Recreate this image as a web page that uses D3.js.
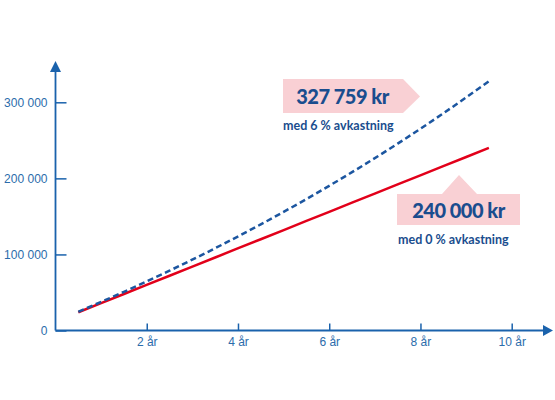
<!DOCTYPE html>
<html>
<head>
<meta charset="utf-8">
<script src="https://cdn.jsdelivr.net/npm/d3@7"></script>
<style>
  body { margin: 0; background: #fff; }
  svg { display: block; font-family: Lato, "Open Sans", sans-serif; }
</style>
</head>
<body>
<div id="chart"></div>
<script>
// data: savings of 2000 kr/month, year-end totals
const years = [1, 2, 3, 4, 5, 6, 7, 8, 9, 10];
const withReturn = [24671, 50864, 78672, 108196, 139540, 172818, 208148, 245657, 285480, 327759];
const noReturn = [24000, 48000, 72000, 96000, 120000, 144000, 168000, 192000, 216000, 240000];
const xTicks = [2, 4, 6, 8, 10];
const yTicks = [0, 100000, 200000, 300000];
const labels = [
  {amount: '327 759 kr', note: 'med 6 % avkastning'},
  {amount: '240 000 kr', note: 'med 0 % avkastning'}
];

const w = 555, h = 400;
const axisCol = '#1a62ac', tickTxt = '#2b6cab', darkBlue = '#1a4d8e';
const red = '#e2001a', pink = '#f9d0d4';

const svg = d3.select('#chart').append('svg').attr('width', w).attr('height', h);

const x = d3.scaleLinear().domain([0, 10]).range([55.5, 511.7]);
const y = d3.scaleLinear().domain([0, 300000]).range([330.5, 102.3]);

const fmt = d3.formatLocale({decimal: ',', thousands: ' ', grouping: [3], currency: ['', ' kr']}).format(',');

// x axis
const xAxis = d3.axisBottom(x).tickValues(xTicks).tickSize(-7).tickPadding(7).tickFormat(d => d + ' år');
const gx = svg.append('g').attr('transform', `translate(0,${y(0)})`).call(xAxis);
gx.select('.domain').remove();
gx.selectAll('line').attr('stroke', axisCol).attr('stroke-width', 1.5);
gx.selectAll('text').attr('fill', tickTxt).style('font-size', '12px');

// y axis
const yAxis = d3.axisLeft(y).tickValues(yTicks).tickSize(-11).tickPadding(8).tickFormat(fmt);
const gy = svg.append('g').attr('transform', `translate(${x(0)},0)`).call(yAxis);
gy.select('.domain').remove();
gy.selectAll('line').attr('stroke', axisCol).attr('stroke-width', 1.5);
gy.selectAll('text').attr('fill', tickTxt).style('font-size', '12px');

// axis lines with arrows
svg.append('line').attr('x1', x(0)).attr('x2', 543).attr('y1', y(0)).attr('y2', y(0))
  .attr('stroke', axisCol).attr('stroke-width', 1.8);
svg.append('path').attr('d', `M543,${y(0) - 5.5}L553,${y(0)}L543,${y(0) + 5.5}Z`).attr('fill', axisCol);
svg.append('line').attr('x1', x(0)).attr('x2', x(0)).attr('y1', y(0)).attr('y2', 71)
  .attr('stroke', axisCol).attr('stroke-width', 1.8);
svg.append('path').attr('d', `M${x(0) - 5.5},72L${x(0)},61L${x(0) + 5.5},72Z`).attr('fill', axisCol);

// lines (year totals plotted mid-year)
const line = d3.line().x(d => x(d[0] - 0.5)).y(d => y(d[1])).curve(d3.curveMonotoneX);

svg.append('path').datum(years.map((d, i) => [d, noReturn[i]]))
  .attr('d', line).attr('fill', 'none').attr('stroke', red).attr('stroke-width', 2.5);

svg.append('path').datum(years.map((d, i) => [d, withReturn[i]]))
  .attr('d', line).attr('fill', 'none').attr('stroke', '#1c56a0').attr('stroke-width', 2.5)
  .attr('stroke-dasharray', '6,3.5');

// callout 1 (arrow to the right)
svg.append('path').attr('d', 'M283,79H403L420,96.5L403,113H283Z').attr('fill', pink);
svg.append('text').attr('x', 342.5).attr('y', 104).attr('text-anchor', 'middle')
  .attr('fill', darkBlue).style('font-size', '20px').style('font-weight', 900)
  .style('letter-spacing', '-0.5px').text(labels[0].amount);
svg.append('text').attr('x', 283).attr('y', 130)
  .attr('fill', darkBlue).style('font-size', '12.5px').style('font-weight', 700).text(labels[0].note);

// callout 2 (arrow pointing up)
svg.append('path').attr('d', 'M397,194H442L459,175L477,194H520V225H397Z').attr('fill', pink);
svg.append('text').attr('x', 458.5).attr('y', 218).attr('text-anchor', 'middle')
  .attr('fill', darkBlue).style('font-size', '20px').style('font-weight', 900)
  .style('letter-spacing', '-0.5px').text(labels[1].amount);
svg.append('text').attr('x', 398).attr('y', 244)
  .attr('fill', darkBlue).style('font-size', '12.5px').style('font-weight', 700).text(labels[1].note);
</script>
</body>
</html>
